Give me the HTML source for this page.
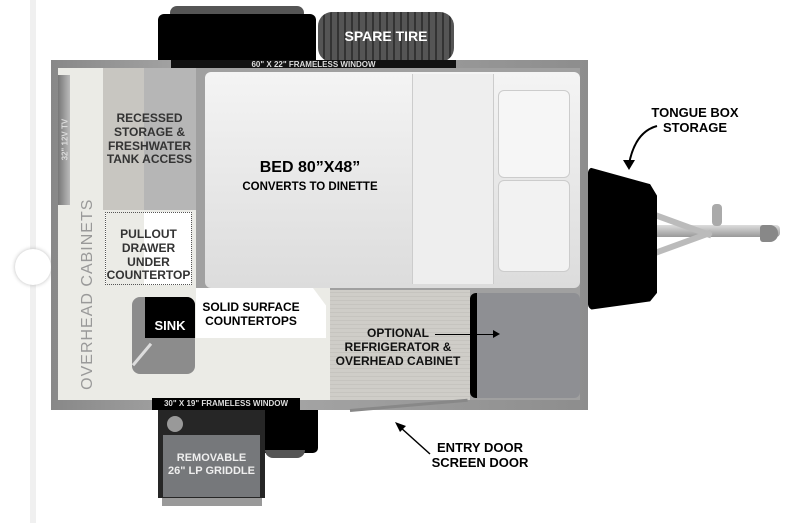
<!DOCTYPE html>
<html><head><style>
body{margin:0;width:792px;height:523px;background:#fff;position:relative;overflow:hidden;font-family:"Liberation Sans",sans-serif;font-weight:bold}
div{position:absolute;box-sizing:border-box}
.t{text-align:center;line-height:1.15}
</style></head><body>
<div style="left:30px;top:0;width:6px;height:523px;background:#f0f0f0"></div>
<div style="left:15px;top:249px;width:36px;height:36px;border-radius:50%;background:#fff;box-shadow:0 0 4px #bbb"></div>
<!-- top tires -->
<div style="left:170px;top:6px;width:134px;height:14px;border-radius:10px;background:#555"></div>
<div style="left:158px;top:14px;width:158px;height:48px;background:#000;border-radius:6px 6px 0 0"></div>
<div style="left:318px;top:12px;width:136px;height:50px;border-radius:14px;background:repeating-linear-gradient(90deg,#555 0 5px,#333 5px 7px)"></div>
<div class="t" style="left:318px;top:28px;width:136px;color:#fff;font-size:14px">SPARE TIRE</div>
<!-- trailer frame -->
<div style="left:51px;top:60px;width:537px;height:350px;background:linear-gradient(90deg,#888,#aaa 30%,#8d8d8d)"></div>
<div style="left:171px;top:60px;width:285px;height:10px;background:#111"></div>
<div class="t" style="left:171px;top:60px;width:285px;color:#ddd;font-size:8px;line-height:10px">60" X 22" FRAMELESS WINDOW</div>
<div style="left:58px;top:68px;width:522px;height:332px;background:#a0a0a0"></div>
<div style="left:58px;top:68px;width:45px;height:332px;background:#ebebe6"></div>
<div style="left:58px;top:75px;width:12px;height:130px;background:linear-gradient(90deg,#777,#bbb)"></div>
<div class="t" style="left:20px;top:135px;width:90px;transform:rotate(-90deg);color:#ddd;font-size:8px">32" 12V TV</div>
<div class="t" style="left:-22px;top:285px;width:220px;transform:rotate(-90deg);color:#999;font-size:16px;font-weight:normal;letter-spacing:1px">OVERHEAD CABINETS</div>
<div style="left:103px;top:68px;width:41px;height:142px;background:#c8c6c1"></div>
<div style="left:144px;top:68px;width:52px;height:142px;background:#b6b6b6"></div>
<div class="t" style="left:100px;top:112px;width:99px;font-size:12px;color:#333">RECESSED<br>STORAGE &amp;<br>FRESHWATER<br>TANK ACCESS</div>
<div style="left:103px;top:210px;width:93px;height:190px;background:#ebebe6"></div>
<div style="left:105px;top:212px;width:87px;height:73px;border:1px dotted #555;background:linear-gradient(90deg,#ebebe6 45%,#fff 45%)"></div>
<div class="t" style="left:102px;top:228px;width:93px;font-size:12px;color:#333">PULLOUT<br>DRAWER<br>UNDER<br>COUNTERTOP</div>
<!-- bed -->
<div style="left:205px;top:72px;width:375px;height:216px;background:linear-gradient(180deg,#f4f4f4,#dcdcdc);border-radius:6px"></div>
<div style="left:412px;top:74px;width:82px;height:210px;background:#eee;border-left:1px solid #ccc;border-right:1px solid #ccc"></div>
<div style="left:498px;top:90px;width:72px;height:88px;background:#f6f6f6;border-radius:6px;border:1px solid #ccc"></div>
<div style="left:498px;top:180px;width:72px;height:92px;background:#f2f2f2;border-radius:6px;border:1px solid #ccc"></div>
<div class="t" style="left:225px;top:159px;width:170px;font-size:16px">BED 80”X48”</div>
<div class="t" style="left:225px;top:181px;width:170px;font-size:11.5px">CONVERTS TO DINETTE</div>
<!-- counter -->
<div style="left:196px;top:288px;width:134px;height:112px;background:#ebebe6"></div>
<div style="left:196px;top:288px;width:130px;height:50px;background:#fff;clip-path:polygon(0 0,90% 0,100% 35%,100% 100%,0 100%)"></div>
<div style="left:132px;top:297px;width:63px;height:77px;background:#8c8c8c;border-radius:8px"></div>
<div style="left:145px;top:297px;width:50px;height:41px;background:#000;border-radius:0 8px 0 0"></div>
<div class="t" style="left:145px;top:319px;width:50px;color:#fff;font-size:13px">SINK</div>
<div style="left:128px;top:353px;width:28px;height:3px;background:#ddd;transform:rotate(-50deg)"></div>
<div class="t" style="left:196px;top:301px;width:110px;font-size:12px">SOLID SURFACE<br>COUNTERTOPS</div>
<div style="left:330px;top:290px;width:140px;height:110px;background:repeating-linear-gradient(0deg,#cfcdc8 0 3px,#c6c4bf 3px 4px)"></div>
<div style="left:470px;top:293px;width:110px;height:105px;background:#8e8f93;border-radius:6px;border-left:7px solid #000"></div>
<div class="t" style="left:326px;top:327px;width:144px;font-size:12px;color:#111">OPTIONAL<br>REFRIGERATOR &amp;<br>OVERHEAD CABINET</div>
<div style="left:435px;top:334px;width:60px;height:1px;background:#000"></div>
<div style="left:493px;top:330px;width:0;height:0;border-left:7px solid #000;border-top:4px solid transparent;border-bottom:4px solid transparent"></div>
<!-- bottom -->
<div style="left:152px;top:398px;width:148px;height:12px;background:#000"></div>
<div class="t" style="left:152px;top:398px;width:148px;color:#ddd;font-size:8px;line-height:12px">30" X 19" FRAMELESS WINDOW</div>
<div style="left:265px;top:410px;width:53px;height:43px;background:#000;border-radius:0 0 5px 0"></div>
<div style="left:265px;top:450px;width:40px;height:8px;background:#555;border-radius:0 0 8px 8px"></div>
<div style="left:158px;top:410px;width:107px;height:88px;background:#262626"></div>
<div style="left:167px;top:416px;width:16px;height:16px;border-radius:50%;background:#999"></div>
<div style="left:163px;top:435px;width:97px;height:62px;background:#76787b"></div>
<div class="t" style="left:163px;top:452px;width:97px;color:#eee;font-size:11px">REMOVABLE<br>26" LP GRIDDLE</div>
<div style="left:162px;top:498px;width:100px;height:8px;background:#999"></div>
<div style="left:350px;top:409px;width:118px;height:3px;background:#888;transform:rotate(-5deg);transform-origin:left"></div>
<svg style="position:absolute;left:390px;top:418px" width="50" height="40"><path d="M40 36 L10 9" stroke="#000" stroke-width="1.5"/><path d="M5 4 L16 8 L10 14Z" fill="#000"/></svg>
<div class="t" style="left:420px;top:441px;width:120px;font-size:13px">ENTRY DOOR<br>SCREEN DOOR</div>
<!-- tongue -->
<div style="left:650px;top:225px;width:130px;height:12px;background:linear-gradient(180deg,#ddd,#999);border-radius:4px"></div>
<div style="left:655px;top:212px;width:60px;height:6px;background:#bbb;transform:rotate(20deg);transform-origin:left"></div>
<div style="left:655px;top:250px;width:60px;height:6px;background:#bbb;transform:rotate(-20deg);transform-origin:left"></div>
<div style="left:712px;top:204px;width:10px;height:22px;background:#aaa;border-radius:4px"></div>
<div style="left:760px;top:225px;width:18px;height:17px;background:#888;border-radius:3px 8px 8px 3px"></div>
<div style="left:588px;top:167px;width:69px;height:143px;background:#000;clip-path:polygon(0 0,90% 12%,100% 20%,100% 88%,90% 94%,0 100%);border-radius:6px"></div>
<div class="t" style="left:640px;top:106px;width:110px;font-size:13px">TONGUE BOX<br>STORAGE</div>
<svg style="position:absolute;left:615px;top:120px" width="50" height="55"><path d="M42 6 Q20 12 14 44" fill="none" stroke="#000" stroke-width="2"/><path d="M8 40 L14 50 L20 40Z" fill="#000"/></svg>
</body></html>
